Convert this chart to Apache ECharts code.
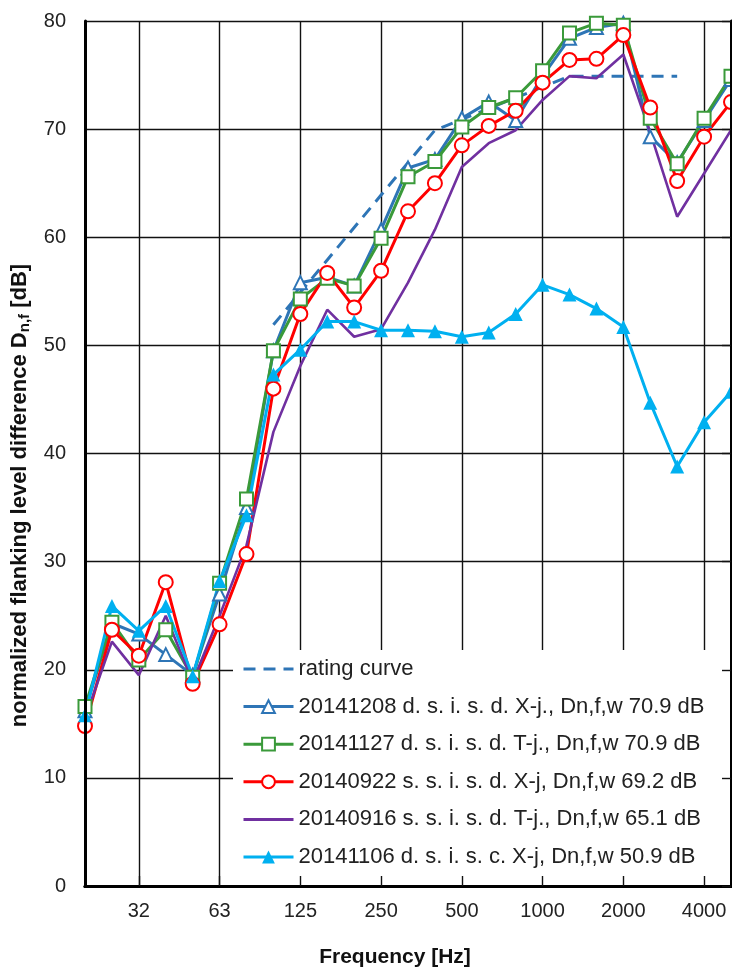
<!DOCTYPE html>
<html>
<head>
  <meta charset="utf-8" />
  <title>Flanking level difference</title>
  <script src="https://cdn.jsdelivr.net/npm/echarts@6/dist/echarts.min.js"></script>
  <style>
    html, body { margin: 0; padding: 0; background: #fff; }
    #main { width: 732px; height: 973px; }
  </style>
</head>
<body>
  <div id="main"></div>
  <script>
    // third-octave bands 20 Hz .. 5000 Hz
    var categories = ['20', '25', '32', '40', '50', '63', '80', '100', '125', '160', '200', '250', '315',
      '400', '500', '630', '800', '1000', '1250', '1600', '2000', '2500', '3150', '4000', '5000'];
    var octaveLabels = ['32', '63', '125', '250', '500', '1000', '2000', '4000'];
    var yTicks = { min: 0, max: 80, step: 10 };

    var ratingCurve = [null, null, null, null, null, null, null,
      51.9, 54.9, 57.9, 60.9, 63.9, 66.9, 69.9, 70.9, 71.9, 72.9, 73.9, 74.9, 74.9, 74.9, 74.9, 74.9, null, null];
    var s20141208 = [16.2, 24.3, 23.3, 21.4, 19.5, 27.0, 35.0, 49.5, 55.8, 56.3, 55.5, 60.7, 66.4,
      67.2, 71.0, 72.5, 70.8, 74.9, 78.4, 79.4, 79.8, 69.3, 66.9, 70.8, 74.6];
    var s20141127 = [16.6, 24.4, 20.9, 23.7, 19.3, 28.0, 35.8, 49.5, 54.3, 56.2, 55.5, 59.9, 65.6,
      67.0, 70.2, 72.0, 72.9, 75.4, 78.9, 79.8, 79.6, 71.0, 66.8, 71.0, 74.9];
    var s20140922 = [14.8, 23.7, 21.3, 28.1, 18.7, 24.2, 30.7, 46.0, 52.9, 56.7, 53.5, 56.9, 62.4,
      65.0, 68.5, 70.3, 71.7, 74.3, 76.4, 76.5, 78.7, 72.0, 65.2, 69.3, 72.5];
    var s20140916 = [15.5, 22.6, 19.5, 25.0, 18.9, 25.0, 31.5, 42.0, 48.1, 53.3, 50.8, 51.5, 55.8,
      60.7, 66.5, 68.7, 69.9, 72.7, 74.9, 74.7, 76.9, 69.7, 61.9, 65.9, 69.9];
    var s20141106 = [15.8, 25.9, 23.6, 25.9, 19.4, 28.2, 34.3, 47.3, 49.6, 52.2, 52.2, 51.4, 51.4,
      51.3, 50.8, 51.2, 52.9, 55.6, 54.7, 53.4, 51.7, 44.7, 38.8, 42.9, 45.7];

    var names = [
      'rating curve',
      '20141208 d. s. i. s. d. X-j., Dn,f,w 70.9 dB',
      '20141127 d. s. i. s. d. T-j., Dn,f,w 70.9 dB',
      '20140922 s. s. i. s. d. X-j, Dn,f,w 69.2 dB',
      '20140916 s. s. i. s. d. T-j., Dn,f,w 65.1 dB',
      '20141106 d. s. i. s. c. X-j, Dn,f,w 50.9 dB'
    ];

    var FONT = 'Liberation Sans, Arial, sans-serif';
    function isOctave(i, v) { return octaveLabels.indexOf(v) >= 0; }

    var chart = echarts.init(document.getElementById('main'));
    var option = {
      animation: false,
      backgroundColor: '#fff',
      grid: { left: 85, right: 1, top: 21, bottom: 86 },
      legend: {
        orient: 'vertical',
        left: 233,
        top: 650,
        backgroundColor: '#fff',
        padding: [8, 30, 21, 9],
        itemWidth: 50,
        itemHeight: 16,
        itemGap: 15.6,
        lineStyle: { width: 3 },
        textStyle: { fontFamily: FONT, fontSize: 22, lineHeight: 22, color: '#222' },
        data: names
      },
      xAxis: [{
        type: 'category',
        data: categories,
        boundaryGap: false,
        axisLine: { show: false },
        axisTick: { show: false },
        axisLabel: { interval: isOctave, margin: 15, fontFamily: FONT, fontSize: 20, color: '#222' },
        splitLine: { show: true, interval: isOctave, lineStyle: { color: '#111', width: 1.4 } },
        name: 'Frequency [Hz]',
        nameLocation: 'middle',
        nameGap: 61,
        nameTextStyle: { fontFamily: FONT, fontSize: 21, fontWeight: 'bold', color: '#111', padding: [0, 26, 0, 0] }
      }, {
        type: 'category',
        data: categories,
        boundaryGap: false,
        position: 'bottom',
        z: 10,
        axisLine: { show: true, lineStyle: { color: '#000', width: 3 } },
        axisTick: { show: true, inside: true, length: 10, interval: isOctave, lineStyle: { color: '#111', width: 1.4 } },
        axisLabel: { show: false },
        splitLine: { show: false }
      }, {
        type: 'category',
        data: categories,
        boundaryGap: false,
        position: 'top',
        z: 10,
        axisLine: { show: true, lineStyle: { color: '#000', width: 3 } },
        axisTick: { show: false },
        axisLabel: { show: false },
        splitLine: { show: false }
      }],
      yAxis: [{
        type: 'value',
        min: yTicks.min,
        max: yTicks.max,
        interval: yTicks.step,
        axisLine: { show: false },
        axisTick: { show: false },
        axisLabel: { margin: 19, fontFamily: FONT, fontSize: 20, color: '#222' },
        splitLine: { show: true, lineStyle: { color: '#111', width: 1.4 } },
        name: '{t|normalized flanking level difference D}{s|n,f}{t| [dB]}',
        nameLocation: 'middle',
        nameGap: 50,
        nameTextStyle: {
          padding: [0, 84, 0, 0],
          rich: {
            t: { fontFamily: FONT, fontSize: 22, fontWeight: 'bold', color: '#111' },
            s: { fontFamily: FONT, fontSize: 15, fontWeight: 'bold', color: '#111', padding: [11, 0, 0, 0] }
          }
        }
      }, {
        type: 'value',
        min: yTicks.min,
        max: yTicks.max,
        interval: yTicks.step,
        position: 'left',
        z: 10,
        axisLine: { show: true, lineStyle: { color: '#000', width: 3 } },
        axisTick: { show: false },
        axisLabel: { show: false },
        splitLine: { show: false }
      }, {
        type: 'value',
        min: yTicks.min,
        max: yTicks.max,
        interval: yTicks.step,
        position: 'right',
        z: 10,
        axisLine: { show: true, lineStyle: { color: '#000', width: 3 } },
        axisTick: { show: true, inside: true, length: 9, lineStyle: { color: '#111', width: 1.4 } },
        axisLabel: { show: false },
        splitLine: { show: false }
      }],
      series: [{
        name: names[0],
        type: 'line',
        data: ratingCurve,
        symbol: 'none',
        color: '#2E75B6',
        itemStyle: { opacity: 0 },
        lineStyle: { color: '#2E75B6', width: 3, type: [12, 8] }
      }, {
        name: names[1],
        type: 'line',
        data: s20141208,
        symbol: 'emptyTriangle',
        symbolSize: 13,
        color: '#2E75B6',
        itemStyle: { color: '#2E75B6', borderWidth: 1.6 },
        lineStyle: { color: '#2E75B6', width: 3 }
      }, {
        name: names[2],
        type: 'line',
        data: s20141127,
        symbol: 'emptyRect',
        symbolSize: 13,
        color: '#3A9A3A',
        itemStyle: { color: '#3A9A3A', borderWidth: 1.6 },
        lineStyle: { color: '#3A9A3A', width: 3 }
      }, {
        name: names[3],
        type: 'line',
        data: s20140922,
        symbol: 'emptyCircle',
        symbolSize: 14,
        color: '#FF0000',
        itemStyle: { color: '#FF0000', borderWidth: 1.6 },
        lineStyle: { color: '#FF0000', width: 3 }
      }, {
        name: names[4],
        type: 'line',
        data: s20140916,
        symbol: 'none',
        color: '#7030A0',
        itemStyle: { opacity: 0 },
        lineStyle: { color: '#7030A0', width: 2.6 }
      }, {
        name: names[5],
        type: 'line',
        data: s20141106,
        symbol: 'triangle',
        symbolSize: 14,
        color: '#00B0F0',
        itemStyle: { color: '#00B0F0' },
        lineStyle: { color: '#00B0F0', width: 3 }
      }]
    };
    chart.setOption(option);
  </script>
</body>
</html>
